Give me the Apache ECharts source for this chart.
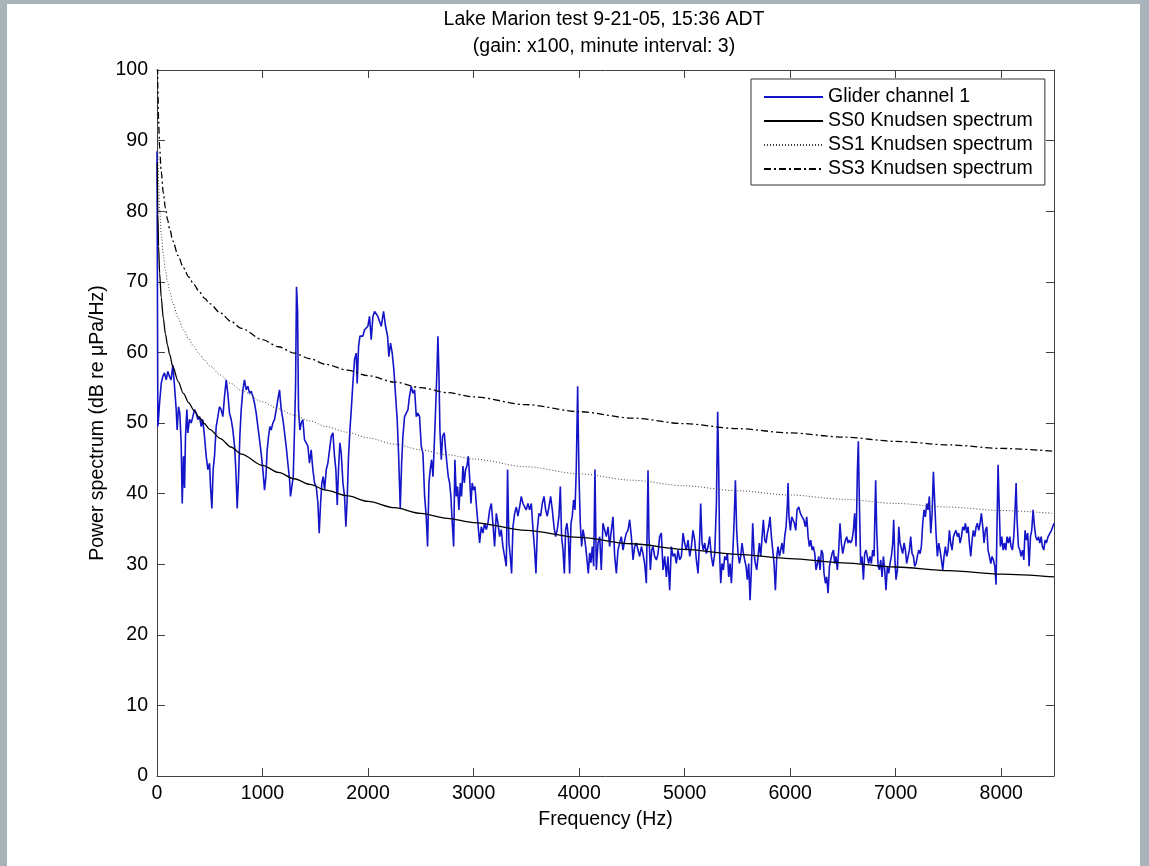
<!DOCTYPE html>
<html>
<head>
<meta charset="utf-8">
<title>Lake Marion test</title>
<script src="https://cdn.jsdelivr.net/npm/echarts@6/dist/echarts.min.js"></script>
<style>
  html, body { margin: 0; padding: 0; background: #a8b4ba; }
  #panel { position: absolute; left: 7px; top: 4px; right: 9px; bottom: 0; background: #fff; }
  #chart { position: absolute; left: 0; top: 0; width: 1149px; height: 866px; }
</style>
</head>
<body>
<div id="panel"></div>
<div id="chart"></div>
<script>
// Glider channel 1 power spectrum, [frequency Hz, dB]
const gliderSpectrum = [
  [0,88.5],[8,49.5],[14,50.5],[24,52.8],[40,55.6],[55,56.6],[71,57.1],[87,56.1],[103,57.3],[118,56.6],[134,56.1],[150,58.2],
  [166,55.2],[182,51.9],[191,49.0],[204,52.3],[216,51.4],[229,47.2],[239,38.6],[251,45.3],[261,40.8],[270,48.1],[283,51.9],
  [292,48.6],[308,50.5],[324,50.0],[340,50.9],[355,51.9],[371,51.4],[387,50.5],[403,50.9],[419,49.5],[434,50.5],[450,48.1],
  [466,45.3],[482,43.4],[498,44.3],[507,41.0],[520,37.9],[532,43.4],[545,45.3],[561,49.5],[577,50.9],[592,52.3],[608,51.9],
  [624,50.9],[640,53.8],[656,56.1],[671,54.2],[687,51.4],[703,50.5],[719,49.0],[735,46.7],[747,43.4],[760,37.9],[773,42.4],
  [785,48.1],[798,51.9],[814,54.7],[829,56.1],[845,54.7],[861,55.2],[877,54.2],[893,54.5],[908,53.8],[924,52.8],[940,51.4],
  [956,49.5],[972,47.6],[987,45.7],[1003,43.4],[1019,40.5],[1032,42.4],[1044,46.2],[1057,48.1],[1070,49.5],[1082,49.0],
  [1098,50.0],[1114,50.5],[1130,51.9],[1145,53.3],[1161,54.7],[1177,51.9],[1193,50.5],[1209,48.6],[1224,46.7],[1240,44.3],
  [1256,42.0],[1265,39.6],[1278,39.4],[1291,42.4],[1303,49.0],[1313,55.2],[1322,69.3],[1332,66.0],[1341,51.9],[1354,49.0],
  [1367,50.0],[1382,50.5],[1398,47.6],[1414,47.2],[1430,46.7],[1445,44.3],[1461,46.2],[1477,43.4],[1493,41.5],[1509,41.0],
  [1525,38.6],[1537,34.4],[1550,38.6],[1562,41.5],[1575,42.4],[1588,40.5],[1604,43.4],[1619,44.3],[1635,46.2],[1651,48.1],
  [1667,48.6],[1682,45.3],[1695,43.4],[1708,38.4],[1720,43.4],[1733,47.2],[1746,45.7],[1762,41.5],[1777,39.6],[1790,35.3],
  [1803,39.6],[1815,45.3],[1828,49.0],[1841,51.9],[1856,55.6],[1872,59.0],[1888,59.9],[1897,55.6],[1910,60.8],[1923,62.3],
  [1935,62.5],[1951,62.3],[1967,63.2],[1983,63.0],[1998,63.7],[2014,65.1],[2030,61.8],[2046,65.1],[2062,65.8],[2078,65.6],
  [2093,65.1],[2109,65.3],[2125,63.7],[2147,65.8],[2166,63.7],[2185,62.3],[2197,59.4],[2213,61.3],[2229,59.9],[2245,57.5],
  [2261,53.8],[2276,50.5],[2289,45.7],[2305,37.9],[2318,44.3],[2330,48.1],[2346,50.9],[2362,51.4],[2378,51.9],[2393,53.8],
  [2409,55.2],[2425,54.2],[2441,54.7],[2457,50.9],[2472,51.4],[2488,50.9],[2504,46.7],[2520,45.7],[2536,39.6],[2551,36.8],
  [2564,32.5],[2577,41.5],[2589,43.4],[2602,44.8],[2615,42.4],[2627,46.7],[2640,51.9],[2653,57.5],[2662,62.3],[2671,57.5],
  [2681,49.0],[2694,44.8],[2706,48.1],[2722,48.6],[2735,46.2],[2747,44.3],[2760,42.4],[2773,41.5],[2785,39.6],[2798,35.8],
  [2811,32.5],[2823,44.8],[2836,39.6],[2848,41.0],[2861,37.7],[2874,41.5],[2886,39.6],[2899,43.9],[2912,41.5],[2924,43.4],
  [2937,43.9],[2950,45.3],[2962,42.4],[2975,38.6],[2987,41.5],[3000,40.5],[3013,41.0],[3025,38.6],[3041,35.8],[3057,33.0],
  [3073,35.3],[3089,34.4],[3104,35.8],[3120,34.9],[3136,35.8],[3152,37.7],[3168,38.6],[3183,35.8],[3199,32.5],[3215,37.2],
  [3231,35.8],[3247,33.9],[3262,34.9],[3278,32.5],[3294,31.1],[3310,29.7],[3322,43.4],[3335,33.0],[3348,31.1],[3360,28.7],
  [3373,35.3],[3389,37.2],[3405,38.1],[3420,36.8],[3436,38.1],[3452,39.6],[3468,38.6],[3484,38.1],[3499,37.7],[3515,38.6],
  [3531,37.7],[3547,38.6],[3563,34.9],[3578,32.1],[3591,28.7],[3604,34.9],[3619,37.2],[3635,36.8],[3651,38.6],[3667,39.6],
  [3683,37.7],[3698,36.8],[3714,38.1],[3730,39.6],[3746,37.7],[3762,35.3],[3777,33.9],[3793,34.9],[3809,36.8],[3822,41.0],
  [3834,33.9],[3847,32.1],[3860,28.7],[3872,34.9],[3885,35.8],[3898,33.9],[3910,28.7],[3923,35.8],[3935,36.8],[3948,39.1],
  [3961,37.7],[3973,43.4],[3986,55.2],[3999,42.4],[4011,35.8],[4024,32.5],[4037,34.9],[4049,33.9],[4062,32.5],[4075,30.6],
  [4087,28.7],[4100,31.6],[4112,30.2],[4125,32.5],[4138,29.7],[4150,43.4],[4163,29.2],[4179,33.0],[4195,33.9],[4210,29.2],
  [4226,35.8],[4242,35.8],[4258,33.9],[4274,35.3],[4289,32.5],[4305,34.8],[4321,36.7],[4337,31.1],[4353,28.7],[4368,32.0],
  [4384,33.0],[4400,33.9],[4416,32.0],[4432,33.4],[4447,34.4],[4463,34.8],[4479,36.3],[4495,33.9],[4511,30.6],[4526,32.5],
  [4542,33.0],[4558,32.0],[4574,31.1],[4590,32.5],[4605,31.5],[4621,30.1],[4637,27.3],[4646,36.3],[4653,43.3],[4662,33.9],
  [4675,29.2],[4688,32.0],[4700,32.5],[4716,31.1],[4732,30.6],[4748,31.5],[4763,33.9],[4779,34.4],[4795,29.2],[4811,31.1],
  [4827,28.2],[4842,31.1],[4858,26.3],[4874,32.5],[4890,31.1],[4906,31.5],[4921,30.1],[4937,32.0],[4953,30.6],[4969,31.1],
  [4985,34.4],[5000,33.0],[5016,32.0],[5032,33.4],[5048,31.1],[5064,32.5],[5079,34.8],[5095,33.4],[5111,30.6],[5127,28.7],
  [5143,33.9],[5152,38.6],[5165,33.0],[5177,32.0],[5190,33.0],[5206,31.5],[5222,32.5],[5237,33.9],[5253,31.1],[5269,29.7],
  [5285,31.5],[5301,38.6],[5313,51.6],[5323,43.3],[5332,31.1],[5342,27.3],[5354,30.1],[5367,29.2],[5380,31.1],[5392,30.6],
  [5405,31.5],[5418,28.2],[5430,30.1],[5443,27.3],[5455,31.1],[5468,35.8],[5481,41.9],[5493,34.8],[5506,31.5],[5519,30.1],
  [5531,31.1],[5544,33.0],[5557,31.5],[5569,30.6],[5582,29.7],[5594,27.8],[5607,30.1],[5620,24.9],[5632,29.2],[5645,35.8],
  [5658,31.5],[5670,30.1],[5683,29.2],[5696,31.1],[5708,33.0],[5721,31.1],[5734,33.9],[5746,36.3],[5759,33.4],[5771,33.0],
  [5784,34.4],[5797,35.3],[5809,36.7],[5822,33.9],[5835,32.0],[5847,30.1],[5860,26.3],[5873,31.1],[5885,32.5],[5898,31.1],
  [5910,32.0],[5923,33.0],[5936,31.5],[5948,33.9],[5961,35.3],[5974,38.6],[5980,41.5],[5989,36.7],[6002,34.8],[6015,36.7],
  [6027,36.7],[6040,35.8],[6053,34.8],[6065,37.7],[6081,38.1],[6097,37.2],[6113,36.7],[6129,36.3],[6144,35.3],[6157,36.7],
  [6170,33.9],[6182,32.5],[6195,33.4],[6208,32.0],[6220,32.5],[6233,31.5],[6245,29.2],[6258,30.1],[6271,31.1],[6283,29.2],
  [6296,32.0],[6309,31.5],[6321,28.7],[6334,27.3],[6346,28.2],[6359,25.9],[6372,29.7],[6384,30.6],[6397,31.5],[6410,32.0],
  [6422,30.1],[6434,31.1],[6447,29.2],[6460,32.0],[6472,35.8],[6485,33.0],[6498,31.5],[6510,32.5],[6523,33.4],[6536,33.9],
  [6548,33.0],[6561,33.4],[6573,33.0],[6586,33.4],[6599,34.8],[6611,37.2],[6624,32.5],[6637,43.3],[6646,47.4],[6656,38.6],
  [6668,30.1],[6681,31.1],[6694,27.8],[6706,31.5],[6719,32.0],[6731,31.1],[6744,30.1],[6757,31.1],[6769,30.1],[6782,32.0],
  [6795,31.1],[6804,37.7],[6810,41.9],[6820,34.8],[6833,29.7],[6845,29.2],[6858,30.6],[6871,28.2],[6883,31.1],[6896,29.2],
  [6908,26.3],[6921,29.7],[6934,28.7],[6946,30.1],[6959,31.1],[6972,33.0],[6981,36.3],[6991,31.1],[7003,27.8],[7016,29.2],
  [7029,35.3],[7041,33.0],[7054,33.0],[7066,31.5],[7079,33.0],[7092,32.0],[7104,30.1],[7117,31.1],[7130,32.0],[7142,33.9],
  [7155,31.5],[7168,31.1],[7180,29.7],[7193,30.1],[7205,31.1],[7218,32.0],[7231,31.5],[7243,32.5],[7256,35.8],[7269,37.7],
  [7281,36.7],[7294,38.6],[7307,37.7],[7319,39.6],[7332,34.4],[7345,37.2],[7357,43.1],[7370,38.6],[7382,34.4],[7395,31.1],
  [7408,33.0],[7420,32.0],[7433,30.6],[7446,29.2],[7458,31.1],[7471,32.5],[7484,31.1],[7496,32.0],[7509,34.8],[7521,33.0],
  [7534,32.0],[7547,33.9],[7559,34.4],[7572,34.8],[7585,33.9],[7597,34.4],[7610,33.0],[7623,33.9],[7635,35.3],[7648,34.8],
  [7661,35.8],[7673,34.4],[7686,35.3],[7698,33.0],[7711,31.1],[7724,33.4],[7736,34.8],[7749,33.9],[7762,35.3],[7774,35.8],
  [7787,34.8],[7800,35.8],[7812,37.2],[7825,35.3],[7837,33.0],[7850,34.8],[7863,35.3],[7875,32.0],[7888,31.1],[7901,30.1],
  [7913,31.1],[7926,30.6],[7939,29.7],[7951,27.1],[7961,36.3],[7970,44.1],[7980,38.6],[7992,32.5],[8005,33.9],[8018,32.0],
  [8030,33.0],[8043,32.0],[8055,33.9],[8068,33.0],[8081,33.9],[8093,32.5],[8106,32.0],[8119,33.9],[8131,37.7],[8141,41.5],
  [8150,36.3],[8163,32.5],[8176,32.0],[8188,31.1],[8201,32.0],[8214,30.6],[8226,34.8],[8239,33.4],[8251,34.4],[8264,29.7],
  [8277,33.9],[8289,34.8],[8302,37.7],[8315,35.3],[8327,33.9],[8340,33.4],[8353,33.9],[8365,33.0],[8378,33.9],[8390,32.5],
  [8403,32.0],[8416,33.4],[8428,33.0],[8444,33.9],[8476,34.8],[8500,35.8]
];

// Knudsen reference curves, read at these frequencies (Hz)
const knudsenFreq = [3, 8, 15, 25, 40, 60, 80, 100, 120, 150, 200, 250, 300, 350, 400, 450, 500, 600, 700, 800,
  1000, 1150, 1300, 1450, 1600, 1800, 2000, 2250, 2500, 2750, 3000, 3500, 4000, 4500, 5000, 5500, 6000, 6500, 7000, 7500, 8000, 8500];
const ss0 = [86.9, 79.6, 75.0, 71.2, 67.8, 64.8, 62.6, 61.0, 59.7, 58.0, 55.9, 54.2, 52.9, 51.8, 50.8, 49.9, 49.1, 47.8, 46.6, 45.6,
  44.0, 43.0, 42.1, 41.3, 40.5, 39.7, 38.9, 38.0, 37.2, 36.5, 35.9, 34.8, 33.8, 32.9, 32.1, 31.4, 30.8, 30.2, 29.6, 29.1, 28.6, 28.2];
const ss1 = [95.9, 88.6, 84.0, 80.2, 76.8, 73.8, 71.6, 70.0, 68.7, 67.0, 64.9, 63.2, 61.9, 60.8, 59.8, 58.9, 58.1, 56.8, 55.6, 54.6,
  53.0, 52.0, 51.1, 50.3, 49.5, 48.7, 47.9, 47.0, 46.2, 45.5, 44.9, 43.8, 42.8, 41.9, 41.1, 40.4, 39.8, 39.2, 38.6, 38.1, 37.6, 37.2];
const ss3 = [104.7, 97.4, 92.8, 89.0, 85.6, 82.6, 80.4, 78.8, 77.5, 75.8, 73.7, 72.0, 70.7, 69.6, 68.6, 67.7, 66.9, 65.6, 64.4, 63.4,
  61.8, 60.8, 59.9, 59.1, 58.3, 57.5, 56.7, 55.8, 55.0, 54.3, 53.7, 52.6, 51.6, 50.7, 49.9, 49.2, 48.6, 48.0, 47.4, 46.9, 46.4, 46.0];

const seriesNames = ['Glider channel 1', 'SS0 Knudsen spectrum', 'SS1 Knudsen spectrum', 'SS3 Knudsen spectrum'];
const titleLines = ['Lake Marion test 9-21-05, 15:36 ADT', '(gain: x100, minute interval: 3)'];

const FONT = '"Liberation Sans", Arial, sans-serif';
const AXIS_COLOR = '#404040';
const FS = 19.5;

const chart = echarts.init(document.getElementById('chart'), null, { renderer: 'canvas' });

const pairs = (ys) => knudsenFreq.map((f, i) => [f, ys[i]]);

const frameAxis = (extra) => Object.assign({
  type: 'value',
  axisLine: { show: true, onZero: false, lineStyle: { color: AXIS_COLOR, width: 1 } },
  axisTick: { show: true, inside: true, length: 8, lineStyle: { color: AXIS_COLOR } },
  splitLine: { show: false }
}, extra);

const option = {
  animation: false,
  textStyle: { fontFamily: FONT },
  graphic: [
    { type: 'text', x: 604, y: 10, style: { text: titleLines[0], fill: '#000', font: FS + 'px ' + FONT, textAlign: 'center' } },
    { type: 'text', x: 604, y: 37, style: { text: titleLines[1], fill: '#000', font: FS + 'px ' + FONT, textAlign: 'center' } }
  ],
  grid: { left: 157, right: 95, top: 70, bottom: 90 },
  legend: {
    data: seriesNames,
    orient: 'vertical',
    left: 751,
    top: 79,
    padding: [8, 12, 6, 12],
    itemGap: 4,
    itemWidth: 59,
    itemHeight: 14,
    backgroundColor: '#fff',
    borderColor: '#333',
    borderWidth: 1,
    borderRadius: 0,
    itemStyle: { opacity: 0 },
    textStyle: { color: '#000', fontSize: FS, fontFamily: FONT }
  },
  xAxis: [
    frameAxis({
      position: 'bottom', min: 0, max: 8500, interval: 1000,
      name: 'Frequency (Hz)', nameLocation: 'middle', nameGap: 34, nameMoveOverlap: false,
      nameTextStyle: { color: '#000', fontSize: FS, fontFamily: FONT },
      axisLabel: { color: '#000', fontSize: FS, fontFamily: FONT, margin: 8, showMaxLabel: false,
        formatter: (v) => String(v) }
    }),
    frameAxis({ position: 'top', min: 0, max: 8500, interval: 1000, axisLabel: { show: false } })
  ],
  yAxis: [
    frameAxis({
      position: 'left', min: 0, max: 100, interval: 10,
      name: 'Power spectrum (dB re \u03BCPa/Hz)', nameLocation: 'middle', nameGap: 49, nameMoveOverlap: false,
      nameTextStyle: { color: '#000', fontSize: FS, fontFamily: FONT },
      axisLabel: { color: '#000', fontSize: FS, fontFamily: FONT, margin: 9 }
    }),
    frameAxis({ position: 'right', min: 0, max: 100, interval: 10, axisLabel: { show: false } })
  ],
  series: [
    {
      name: seriesNames[0], type: 'line', data: gliderSpectrum,
      symbol: 'none', showSymbol: false, clip: true,
      lineStyle: { color: '#1414c8', width: 1.6 }, itemStyle: { color: '#1414c8' }
    },
    {
      name: seriesNames[1], type: 'line', data: pairs(ss0),
      symbol: 'none', showSymbol: false, clip: true, smooth: 0.3, smoothMonotone: 'x',
      lineStyle: { color: '#000', width: 1.3 }, itemStyle: { color: '#000' }
    },
    {
      name: seriesNames[2], type: 'line', data: pairs(ss1),
      symbol: 'none', showSymbol: false, clip: true, smooth: 0.3, smoothMonotone: 'x',
      lineStyle: { color: '#444', width: 1, type: [1, 2] }, itemStyle: { color: '#444' }
    },
    {
      name: seriesNames[3], type: 'line', data: pairs(ss3),
      symbol: 'none', showSymbol: false, clip: true, smooth: 0.3, smoothMonotone: 'x',
      lineStyle: { color: '#000', width: 1.3, type: [7, 3, 2, 3] }, itemStyle: { color: '#000' }
    }
  ]
};

chart.setOption(option);
</script>
</body>
</html>
